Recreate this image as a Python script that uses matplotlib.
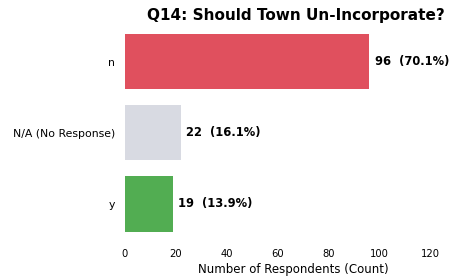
import matplotlib
matplotlib.use("Agg")
import matplotlib.pyplot as plt

categories = ["n", "N/A (No Response)", "y"]
counts = [96, 22, 19]
percents = [70.1, 16.1, 13.9]
colors = ["#e0505e", "#d8dae2", "#52ad52"]
xticks = [0, 20, 40, 60, 80, 100, 120]

fig = plt.figure(figsize=(4.57, 2.79), dpi=100)
ax = fig.add_axes([0.2735, 0.1416, 0.6955, 0.7654])
ypos = list(range(len(categories)))
ax.barh(ypos, counts, height=0.78, color=colors)
for y, c, p in zip(ypos, counts, percents):
    ax.text(c + 2, y, f"{c}  ({p}%)", va="center", ha="left",
            fontsize=8.3, fontweight="bold")
ax.set_yticks(ypos)
ax.set_yticklabels(categories, fontsize=7.8)
ax.set_xticks(xticks)
ax.set_xticklabels([str(t) for t in xticks], fontsize=7.2)
ax.set_xlim(0, 124.8)
ax.set_ylim(2.5, -0.5)
ax.tick_params(length=0, pad=7)
for s in ax.spines.values():
    s.set_visible(False)
ax.set_xlabel("Number of Respondents (Count)", fontsize=8.5, labelpad=3, x=0.53)
ax.set_title("Q14: Should Town Un-Incorporate?", fontsize=11, fontweight="bold",
             pad=4, x=0.538)
fig.savefig("out.png", dpi=100)
